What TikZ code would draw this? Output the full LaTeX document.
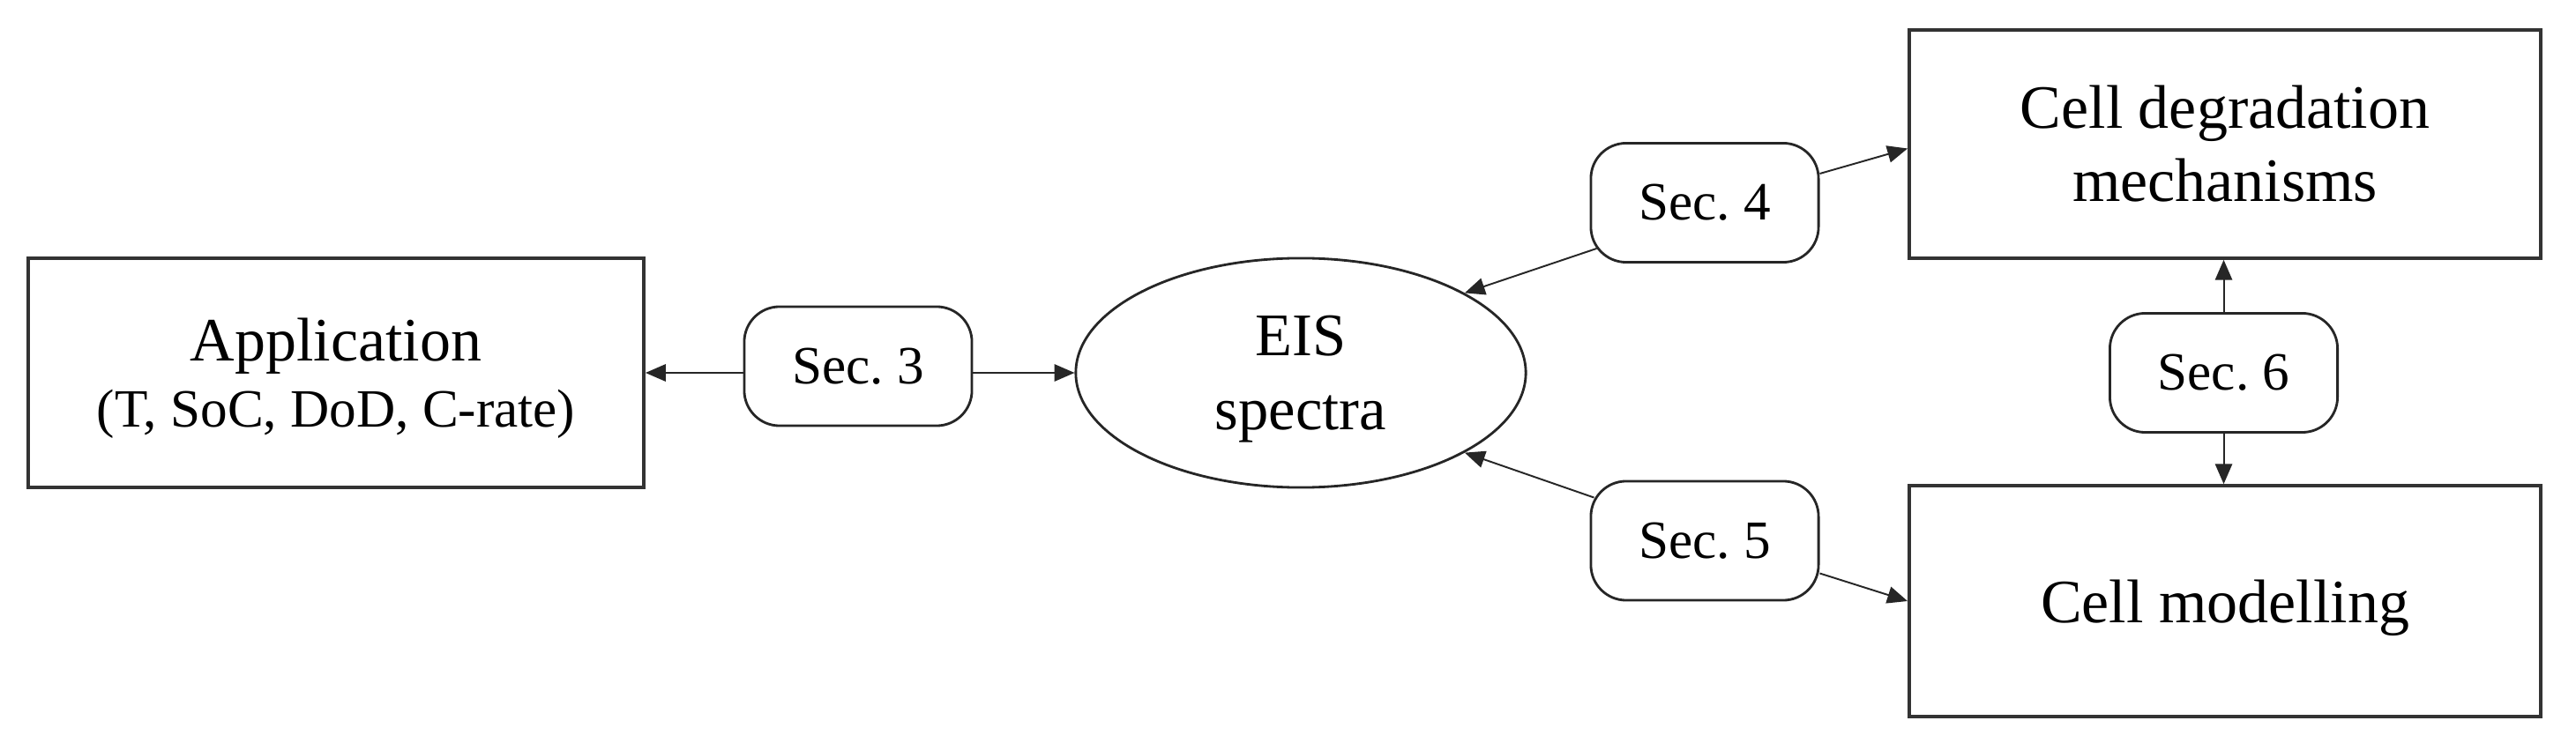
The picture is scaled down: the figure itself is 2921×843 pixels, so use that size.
\documentclass[tikz,border=0pt]{standalone}
\usepackage{fontspec}
\setmainfont{Liberation Serif}
\usetikzlibrary{arrows.meta,calc,shapes.geometric}
\begin{document}
\begin{tikzpicture}[x=0.01cm,y=-0.01cm,
  bigbox/.style={draw=black!80, line width=1pt, rectangle, inner sep=0pt, align=center,
    font=\fontsize{19.9pt}{23.6pt}\selectfont},
  secbox/.style={draw=black!85, line width=0.8pt, rectangle, rounded corners=0.4cm,
    minimum width=2.58cm, minimum height=1.35cm, inner sep=0pt,
    font=\fontsize{17.4pt}{20pt}\selectfont},
  eisnode/.style={ellipse, draw=black!85, line width=0.8pt, inner sep=0pt, align=center,
    text depth=0pt, font=\fontsize{19.5pt}{23.9pt}\selectfont},
  arr/.style={draw=black!85, line width=0.55pt, -{Triangle[length=6.5pt,width=5.5pt]}},
]
\useasboundingbox (0,0) rectangle (2921,843);
\fill[white] (0,0) rectangle (2921,843);

\node[bigbox, minimum width=6.98cm, minimum height=2.60cm, text depth=0pt,
  font=\fontsize{17.4pt}{21.3pt}\selectfont] (app) at (381,423)
  {{\fontsize{19.9pt}{21.3pt}\selectfont Application}\\(T, SoC, DoD, C-rate)};

\node[eisnode, minimum width=5.10cm, minimum height=2.60cm] (eis) at (1475,423) {EIS\\spectra};

\node[secbox] (sec3) at (973,415.5) {Sec.\ 3};
\node[secbox] (sec4) at (1933,230) {Sec.\ 4};
\node[secbox] (sec5) at (1933,613.5) {Sec.\ 5};
\node[secbox] (sec6) at (2521.5,423) {Sec.\ 6};

\node[bigbox, minimum width=7.16cm, minimum height=2.59cm] (deg) at (2523,163.5)
  {Cell degradation\\mechanisms};
\node[bigbox, minimum width=7.16cm, minimum height=2.62cm, text depth=0pt] (model) at (2523,682)
  {Cell modelling};

\draw[arr] (sec3.west |- app.east) -- (app.east);
\draw[arr] (sec3.east |- eis.west) -- (eis.west);
\draw[arr] ($(sec4.south west)+(8,-17)$) -- (eis.26);
\draw[arr] ($(sec4.east)+(0,-33)$) -- ($(deg.west)+(0,5)$);
\draw[arr] ($(sec5.north west)+(5,20)$) -- (eis.-26);
\draw[arr] ($(sec5.east)+(0,37)$) -- (model.west);
\draw[arr] (sec6.north) -- (sec6.north |- deg.south);
\draw[arr] (sec6.south) -- (sec6.south |- model.north);
\end{tikzpicture}
\end{document}
